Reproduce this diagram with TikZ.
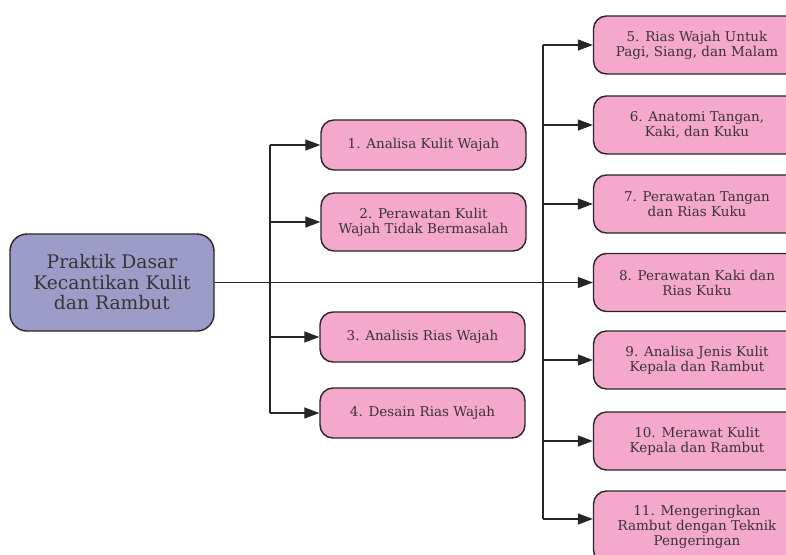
\documentclass[tikz,border=0pt]{standalone}
\usepackage{fontspec}
\setmainfont{DejaVu Serif}
\usetikzlibrary{arrows.meta}
\definecolor{boxpink}{HTML}{F4A8CB}
\definecolor{mainblue}{HTML}{9D9CC8}
\definecolor{inkgray}{HTML}{3B3236}
\tikzset{
  topic/.style={draw=black!85, line width=1.4pt, fill=boxpink, rounded corners=13pt,
    minimum width=205pt, minimum height=50pt, align=center, text=inkgray,
    font=\fontsize{13.5}{15}\selectfont},
  link/.style={draw=black!85, line width=1.3pt},
  arr/.style={link, -{Triangle[length=15pt,width=11pt]}}
}
\begin{document}
\begin{tikzpicture}[x=1pt,y=-1pt]
\useasboundingbox (0,0) rectangle (786,554);
\clip (0,0) rectangle (786,554);
% main topic
\node[draw=black!85, line width=1.4pt, fill=mainblue, rounded corners=17pt, minimum width=204pt,
  minimum height=97pt, align=center, text=inkgray, font=\fontsize{18.7}{20.5}\selectfont]
  (main) at (112,282.5) {Praktik Dasar\\Kecantikan Kulit\\dan Rambut};
% left branch
\node[topic] (b1) at (423.5,145) {1. Analisa Kulit Wajah};
\node[topic, minimum height=58pt] (b2) at (423.5,222) {2. Perawatan Kulit\\Wajah Tidak Bermasalah};
\node[topic] (b3) at (422.5,337) {3. Analisis Rias Wajah};
\node[topic] (b4) at (422.5,413) {4. Desain Rias Wajah};
% right branch
\node[topic, minimum height=58pt, minimum width=207pt] (b5) at (697,45) {5. Rias Wajah Untuk\\Pagi, Siang, dan Malam};
\node[topic, minimum height=58pt, minimum width=207pt] (b6) at (697,125) {6. Anatomi Tangan,\\Kaki, dan Kuku};
\node[topic, minimum height=58pt, minimum width=207pt] (b7) at (697,204) {7. Perawatan Tangan\\dan Rias Kuku};
\node[topic, minimum height=58pt, minimum width=207pt] (b8) at (697,282.5) {8. Perawatan Kaki dan\\Rias Kuku};
\node[topic, minimum height=58pt, minimum width=207pt] (b9) at (697,360) {9. Analisa Jenis Kulit\\Kepala dan Rambut};
\node[topic, minimum height=58pt, minimum width=207pt] (b10) at (697,441) {10. Merawat Kulit\\Kepala dan Rambut};
\node[topic, minimum height=72pt, minimum width=207pt] (b11) at (697,527) {11. Mengeringkan\\Rambut dengan Teknik\\Pengeringan};
% spines
\coordinate (ls) at (270,0);
\coordinate (rs) at (543,0);
\draw[link] (ls |- b1.west) -- (ls |- b4.west);
\draw[link] (rs |- b5.west) -- (rs |- 0,519);
\draw[arr] (main.east) -- (b8.west);
\foreach \b in {b1,b2,b3,b4}
  \draw[arr] (ls |- \b.west) -- (\b.west);
\foreach \b in {b5,b6,b7,b9,b10}
  \draw[arr] (rs |- \b.west) -- (\b.west);
\draw[arr] (rs |- 0,519) -- (b11.west |- 0,519);
\end{tikzpicture}
\end{document}
